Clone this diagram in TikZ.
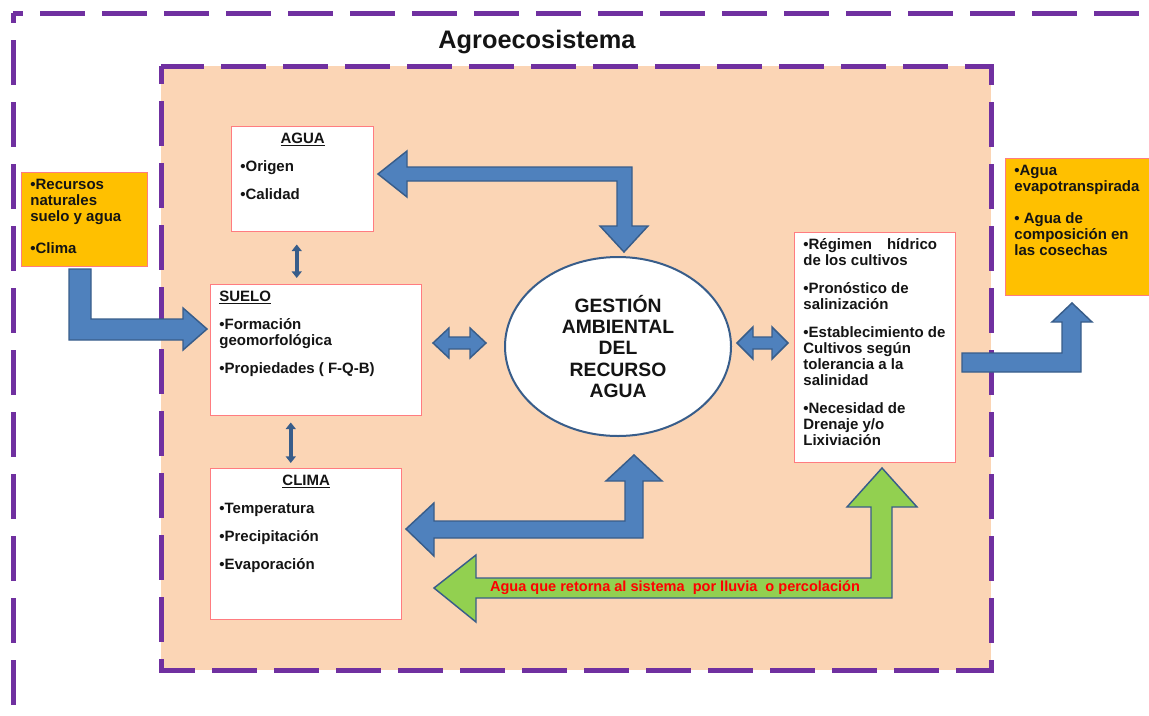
\documentclass[tikz,border=0pt]{standalone}
\usepackage{fontspec}
\setmainfont{Liberation Sans}
\usetikzlibrary{shapes.geometric,arrows.meta}
\definecolor{purp}{HTML}{7030A0}
\definecolor{peach}{HTML}{FBD5B5}
\definecolor{orng}{HTML}{FFC000}
\definecolor{boxred}{HTML}{FF7C80}
\definecolor{blfill}{HTML}{4F81BD}
\definecolor{bldraw}{HTML}{385D8A}
\definecolor{grfill}{HTML}{92D050}
\definecolor{txt}{HTML}{141414}
\newcommand\bxt[3]{\parbox[c][#2][t]{#1}{\raggedright\vspace*{1.8pt}\rule{0pt}{10.5pt}#3}}
\begin{document}
\begin{tikzpicture}[x=0.75pt,y=-0.75pt,
  frame/.style={draw=purp, line width=3.75pt, dash pattern=on 33.75pt off 12.75pt},
  txtbox/.style={draw=boxred, line width=1.1pt, fill=white, anchor=north west,
    inner xsep=6.5pt, inner ysep=0pt, text=txt,
    font=\fontsize{11.25pt}{12pt}\selectfont\bfseries},
  srcbox/.style={txtbox, fill=orng},
  blockarrow/.style={fill=blfill, draw=bldraw, line width=1.1pt, line join=miter},
  greenarrow/.style={blockarrow, fill=grfill},
  thinarrow/.style={draw=bldraw, line width=3pt,
    {Triangle[length=5pt,width=7.5pt]}-{Triangle[length=5pt,width=7.5pt]}}
]
\clip (0,0) rectangle (1149,715);

% outer frame (only top and left edges visible)
\draw[frame, dash phase=26.25pt] (13,13) -- (1180,13);
\draw[frame, dash phase=26.25pt] (13,13) -- (13,740);
% inner frame
\fill[peach] (161,66) rectangle (991,670);
\draw[frame, dash phase=20pt] (161,66) rectangle (991,670);

\node[font=\fontsize{19pt}{22pt}\selectfont\bfseries, text=txt, anchor=base] (title) at (537,48) {Agroecosistema};

% block arrows
\draw[blockarrow] (69,269) -- (91,269) -- (91,319) -- (183,319) -- (183,308) -- (207,329)
  -- (183,350) -- (183,340) -- (69,340) -- cycle;
\draw[blockarrow] (378,174) -- (407,151) -- (407,167) -- (632,167) -- (632,226) -- (648,226)
  -- (624,252) -- (600,226) -- (617,226) -- (617,181) -- (407,181) -- (407,197) -- cycle;
\draw[blockarrow] (433,343) -- (449,328) -- (449,337) -- (470,337) -- (470,328) -- (486,343)
  -- (470,358) -- (470,349) -- (449,349) -- (449,358) -- cycle;
\draw[blockarrow] (737,343) -- (753,327) -- (753,337) -- (772,337) -- (772,327) -- (788,343)
  -- (772,359) -- (772,349) -- (753,349) -- (753,359) -- cycle;
\draw[blockarrow] (406,529) -- (434,503) -- (434,521) -- (625,521) -- (625,481) -- (606,481)
  -- (634,455) -- (662,481) -- (643,481) -- (643,538) -- (434,538) -- (434,556) -- cycle;
\draw[greenarrow] (434,588) -- (476,555) -- (476,578) -- (871,578) -- (871,507) -- (847,507)
  -- (882,468) -- (917,507) -- (892,507) -- (892,598) -- (476,598) -- (476,622) -- cycle;
\draw[blockarrow] (962,353) -- (1062,353) -- (1062,322) -- (1052,322) -- (1072,303) -- (1092,322)
  -- (1081,322) -- (1081,372) -- (962,372) -- cycle;

\node[text=red, font=\fontsize{10.9pt}{12pt}\selectfont\bfseries, anchor=base] (ret) at (675,591)
  {Agua que retorna al sistema\ \ por lluvia\ \ o percolación};

% boxes
\node[srcbox] (rec) at (21,172) {\bxt{81.5pt}{70.5pt}{•Recursos\\naturales\\suelo y agua\\[12pt]•Clima}};
\node[txtbox] (agua) at (231,126) {\bxt{93.5pt}{78.75pt}{\makebox[\linewidth]{\underline{AGUA}}\\[9pt]•Origen\\[9pt]•Calidad}};
\node[txtbox] (suelo) at (210,284) {\bxt{145.25pt}{98.25pt}{\underline{SUELO}\\[9pt]•Formación\\geomorfológica\\[9pt]•Propiedades ( F-Q-B)}};
\node[txtbox] (clima) at (210,468) {\bxt{130.25pt}{113.25pt}{\makebox[\linewidth]{\underline{CLIMA}}\\[9pt]•Temperatura\\[9pt]•Precipitación\\[9pt]•Evaporación}};
\node[txtbox] (crit) at (794,232) {\bxt{107.75pt}{172.5pt}{•Régimen\hspace{11.25pt}hídrico\\de los cultivos\\[9pt]•Pronóstico de\\salinización\\[9pt]•Establecimiento de\\Cultivos según\\tolerancia a la\\salinidad\\[9pt]•Necesidad de\\Drenaje y/o\\Lixiviación}};
\node[srcbox] (out) at (1005,158) {\bxt{97.25pt}{102.75pt}{•Agua\\evapotranspirada\\[12pt]• Agua de\\composición en\\las cosechas}};

\node[ellipse, draw=bldraw, line width=1.5pt, fill=white, minimum width=169.5pt, minimum height=134.25pt,
  inner sep=0pt, align=center, text=txt, font=\fontsize{14.5pt}{16.1pt}\selectfont\bfseries] (gest)
  at (618,346.5) {GESTIÓN\\AMBIENTAL\\DEL\\RECURSO\\AGUA};

% thin connectors
\draw[thinarrow, shorten <=9pt, shorten >=4.5pt] ([xshift=-4.5pt]agua.south) -- ([xshift=-4.5pt]agua.south |- suelo.north);
\draw[thinarrow, shorten <=4.5pt, shorten >=3.75pt] ([xshift=-19.1pt]suelo.south) -- ([xshift=-19.1pt]suelo.south |- clima.north);
\end{tikzpicture}
\end{document}
